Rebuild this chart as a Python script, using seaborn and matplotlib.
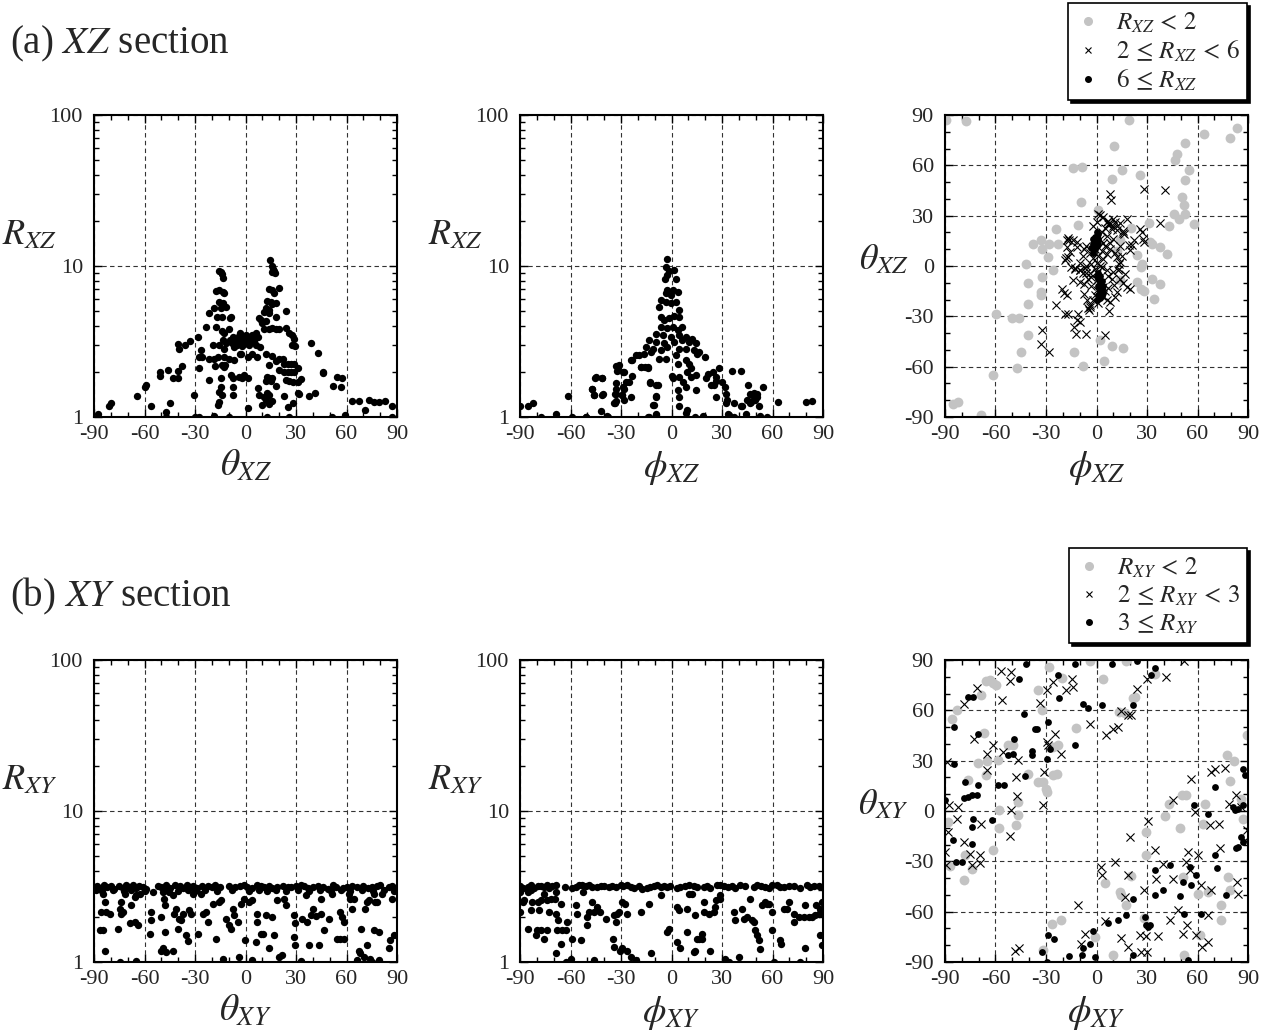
import matplotlib
matplotlib.use("Agg")
import matplotlib.pyplot as plt
import seaborn as sns
from matplotlib.ticker import MultipleLocator, LogLocator, NullFormatter
from matplotlib.lines import Line2D

# ---- data: (angle, R) or (phi, theta) pairs ----

# (a) XZ : theta_XZ vs R_XZ
xz_theta_r = [
    (-87.6, 1.05), (-81.3, 1.18), (-80.1, 1.23), (-64.3, 1.37), (-59.8, 1.57), (-59.0, 1.62), (-56.0, 1.18),
    (-47.5, 1.00), (-47.0, 1.08), (-44.6, 1.24), (-50.5, 1.99), (-50.5, 1.86), (-45.8, 2.06), (-43.2, 1.82),
    (-40.2, 1.82), (-40.2, 2.02), (-37.7, 2.18), (-40.2, 3.04), (-39.6, 2.80), (-35.9, 2.99), (-32.7, 3.18),
    (-28.4, 3.39), (-30.8, 1.39), (-30.2, 1.00), (-27.4, 1.00), (-27.8, 2.50), (-25.8, 2.50), (-26.4, 2.77),
    (-27.4, 2.12), (-21.9, 2.44), (-18.5, 2.44), (-16.6, 2.50), (-21.5, 1.77), (-19.5, 3.02), (-17.9, 2.18),
    (-18.5, 1.02),
    (-17.6, 6.85), (-15.6, 6.93), (-16.0, 9.3), (-14.4, 9.1), (-14.0, 8.9), (-13.6, 8.3), (-13.6, 6.77),
    (-12.6, 6.6), (-15.6, 5.8), (-13.6, 5.65), (-14.6, 5.25), (-11.6, 5.37), (-21.5, 4.85), (-18.5, 5.25),
    (-17.0, 4.6), (-14.0, 4.6), (-9.5, 4.5), (-8.5, 4.6), (-23.5, 3.95), (-17.6, 3.95), (-14.0, 3.7),
    (-12.6, 3.6), (-10.0, 3.8), (-13.6, 3.23), (-11.6, 3.07), (-15.6, 2.99), (-12.6, 2.8), (-9.5, 3.23),
    (-7.5, 3.39),
    (-8, 3.1), (-6, 3.3), (-5, 3.0), (-4, 3.45), (-3, 3.2), (-2, 2.95), (-1, 3.35), (0, 3.1), (1, 3.4),
    (2, 3.0), (3, 3.25), (-7, 2.9), (-3.5, 3.6), (0.5, 3.5), (-1.5, 3.05), (4, 3.5), (5, 3.2), (6, 3.0),
    (-12.6, 2.5), (-9.7, 2.44), (-6.7, 2.38), (-3.0, 2.6), (-12.0, 2.2), (-14.0, 2.2), (-13.0, 2.13),
    (-14.6, 1.8), (-8.7, 1.9), (-7.7, 1.8), (-3.8, 1.85), (-1.8, 1.8), (-14.6, 1.58), (-7.7, 1.58),
    (-7.7, 1.4), (-15.6, 1.47), (-14.0, 1.40), (-15.6, 1.25), (-16.6, 1.2), (-9.7, 1.0), (-0.8, 1.9),
    (1.2, 1.8), (1.2, 1.14), (-2.8, 2.63), (1.2, 2.5), (4.1, 2.63), (7.1, 2.5), (7.5, 1.55), (8.1, 1.4),
    (10, 1.2),
    (14.6, 11.0), (16.0, 10.0), (16.6, 9.6), (17.0, 9.3), (16.0, 9.1), (17.6, 9.0), (14.0, 7.0),
    (16.0, 6.9), (17.0, 6.6), (20.1, 7.1), (13.0, 5.9), (15.0, 5.8), (16.0, 5.6), (18.0, 5.7),
    (12.0, 5.3), (14.0, 5.1), (11.0, 4.95), (14.0, 4.9), (9.0, 4.4), (10.0, 4.2), (12.0, 4.3),
    (8.0, 4.5), (18.0, 4.6), (24.0, 5.0), (11.0, 3.85), (14.0, 3.85), (16.0, 3.9), (18.0, 3.85),
    (20.0, 3.8), (24.0, 3.9), (26.0, 3.6), (27.4, 3.5), (28.8, 3.3), (27.8, 3.0), (29.4, 2.95),
    (6.5, 3.6), (7.5, 3.4), (4.5, 3.2), (8.5, 2.9),
    (12.0, 2.6), (16.0, 2.55), (20.0, 2.44), (22.0, 2.44), (23.0, 2.25), (25.0, 2.25), (27.0, 2.25),
    (29.0, 2.25), (14.0, 2.2), (18.0, 2.35), (20.0, 2.06), (23.0, 1.98), (25.0, 1.98), (27.0, 1.98),
    (29.0, 1.98), (31.0, 2.1), (13.0, 1.85), (14.0, 1.8), (15.0, 1.73), (16.0, 1.8), (12.0, 1.72),
    (24.0, 1.76), (26.0, 1.72), (28.0, 1.7), (31.0, 1.7), (18.0, 1.6), (13.0, 1.45), (14.0, 1.4),
    (12.0, 1.3), (16.0, 1.28), (11.0, 1.35), (14.0, 1.22), (23.0, 1.38), (25.0, 1.17), (28.0, 1.23),
    (31.0, 1.45), (32.0, 1.43), (33.0, 1.78), (13.0, 1.0), (26.0, 1.0),
    (39.0, 3.11), (43.2, 2.66), (46.0, 2.0), (46.0, 1.97), (38.0, 1.37), (41.0, 1.44), (51.5, 1.0),
    (52.0, 1.6), (54.5, 1.84), (57.4, 1.82), (57.0, 1.57), (59.0, 1.03), (63.3, 1.28), (67.2, 1.27),
    (73.2, 1.3), (76.1, 1.25), (79.1, 1.25), (83.0, 1.27), (71.0, 1.12), (87.0, 1.18), (87.0, 1.0),
]

# (a) XZ : phi_XZ vs R_XZ
xz_phi_r = [
    (-90, 1.18), (-85, 1.18), (-82, 1.23), (-77.7, 1.0), (-68.6, 1.04), (-61.3, 1.37), (-59, 1.0),
    (-50.5, 1.0), (-47, 1.54), (-45, 1.83), (-46, 1.39), (-41, 1.80), (-41, 1.40), (-41.6, 1.1),
    (-37.7, 1.0), (-33.7, 1.23), (-33.1, 1.28), (-32.7, 1.43), (-32, 2.15), (-31.3, 2.2), (-32.7, 1.68),
    (-32.7, 1.54), (-28.4, 1.99), (-26.8, 1.71), (-28.8, 1.57), (-29.2, 1.39), (-25.2, 1.70),
    (-23.3, 2.38), (-18, 2.15), (-16, 2.15), (-19.3, 2.57), (-14, 2.15), (-13, 1.70), (-13.4, 1.0),
    (-9, 1.0), (-9, 1.05), (-9, 1.38), (-8, 1.62), (-11, 1.2),
    (-2.4, 11.1), (-3.0, 9.9), (-1.4, 9.2), (1.6, 9.4), (-3.7, 8.2), (2.6, 8.2), (-2.4, 8.7),
    (-2.4, 6.9), (0.6, 6.9), (3.6, 6.75), (-3.4, 6.6), (-0.4, 6.4), (-6.3, 5.95), (-3.0, 5.8),
    (-0.4, 5.65), (2.6, 5.8), (-7.3, 5.37), (4.5, 5.1), (-6.3, 4.6), (-4.3, 4.4), (-1.4, 4.5),
    (1.6, 4.7), (4.5, 4.6), (-6.3, 3.95), (-2.4, 3.86), (0.6, 3.95), (3.6, 3.76), (6.5, 3.95),
    (-9.3, 3.57), (-5.3, 3.49), (-0.4, 3.4), (4.5, 3.49), (8.5, 3.4), (12.4, 3.31), (-13.2, 3.23),
    (-9.3, 3.15), (-4.3, 3.07), (1.6, 3.15), (6.5, 3.23), (10.5, 3.15), (14.4, 3.07), (-15.2, 2.91),
    (-11.2, 2.84), (-6.3, 2.77), (-2.4, 2.91), (4.5, 2.84), (8.5, 2.84), (13.4, 2.77), (16.4, 2.70),
    (-16.2, 2.63), (-12.2, 2.70), (-7.3, 2.44), (-3.4, 2.44), (2.6, 2.57), (8.5, 2.38), (15.4, 2.63),
    (19.9, 2.48), (-21.1, 2.57), (-24.1, 2.38), (-18.1, 2.13), (-14.2, 2.10), (3.6, 2.26), (10.5, 2.26),
    (11.4, 2.10), (9.5, 1.99), (-32.9, 2.17), (-32.5, 2.02), (-29.0, 1.99), (-23.5, 1.86), (-12.8, 1.68),
    (-9.3, 1.62), (0.2, 1.86), (0.6, 1.80), (4.5, 1.84), (6.9, 1.71), (8.5, 1.58), (11.4, 1.84),
    (14.4, 1.89), (20.3, 1.82), (21.9, 1.92), (24.7, 1.99), (26.2, 1.84), (28.2, 2.10), (23.3, 1.64),
    (25.2, 1.62), (30.2, 1.71), (31.6, 1.58), (32.1, 1.43), (36.1, 2.02), (41.0, 2.02), (45.6, 1.62),
    (46.4, 1.43), (47.9, 1.39), (49.5, 1.29), (50.9, 1.41), (-45.2, 1.82), (-41.2, 1.80), (-47.1, 1.54),
    (-45.8, 1.39), (-40.8, 1.41), (-33.3, 1.43), (-33.9, 1.24), (-28.0, 1.54), (-29.4, 1.39),
    (-28.4, 1.30), (-24.1, 1.36), (-9.3, 1.36), (-10.3, 1.20), (3.6, 1.52), (4.5, 1.36), (14.4, 1.50),
    (4.5, 1.18), (9.5, 1.11), (8.9, 1.06), (26.2, 1.36), (32.1, 1.23), (33.1, 1.30), (37.1, 1.24),
    (41.6, 1.18), (44.0, 1.05), (46.9, 1.23), (-50.7, 1.0), (-38.5, 1.01), (-14.2, 1.0), (-9.3, 1.03),
    (14.0, 1.0), (18.7, 1.01), (34.1, 1.03),
    (37.3, 1.0), (33.7, 1.04), (41.2, 1.19), (47.1, 1.26), (52, 1.19), (52.7, 1.01), (54.6, 1.57),
    (57, 1.0), (63.5, 1.26), (79.7, 1.26), (83.2, 1.28), (26.4, 1.73), (49, 1.45), (51, 1.35), (45, 1.3),
]

# (a) XZ : phi_XZ vs theta_XZ, split by R_XZ
xz_low = [  # R_XZ < 2
    (-89.5, 87.3), (-77.6, 86.5), (19.6, 86.9), (63.7, 78.9), (79.6, 76.5), (83.5, 82.5), (10.1, 71.4),
    (52.8, 73.4), (47.8, 67), (46.8, 63.4), (54.8, 57.5), (-13.7, 58.4), (-8.7, 59), (15.1, 57), (26, 54),
    (9.1, 52.1), (52.8, 51.5), (-9.3, 38.2), (50.8, 41.2), (45.8, 31.2), (48.8, 28.2), (51.8, 36.2),
    (52.8, 31.2), (57.7, 25.2), (0.6, 33.2), (-10.7, 24.3), (-24, 22.3), (-37.5, 12.9), (-32.9, 15.7),
    (-32.5, 10.3), (-28, 12.9), (-23, 12.9), (-29, 5.4), (-25.6, -2.2), (-41.9, 1.0), (-40.9, -9.9),
    (-32.5, -6.6), (-32.9, -15.5), (-32.9, -17.5), (-40.9, -22.5), (-59.7, -28.4), (-50.4, -30.8),
    (-45.8, -30.8), (-40.9, -41), (-44.8, -51.3), (-47.4, -60.8), (-61.3, -65.2), (-85.1, -82.1),
    (-82.1, -81.1), (-68.8, -89.1), (-13.1, -51.3), (-8.1, -59.6), (1.8, -43.9), (4.6, -56.9),
    (9.5, -47.9), (15.7, -48.7), (32, 14.3), (32.9, 12.9), (37.9, 11.3), (41.9, 7.4), (24, 6.4),
    (26.6, -0.6), (27, 1.4), (24, -9.5), (26.6, -13.5), (28, -14.9), (32.9, -7.6), (37.9, -10.5),
    (33.9, -19.5), (42.9, 23.7), (31, 25.6), (20.4, 22.9), (14.1, 15.3), (12.1, 8.9), (13.7, -8.5),
]
xz_mid = [  # 2 <= R_XZ < 6
    (8.1, 43.1), (8.5, 39.2), (28, 46.1), (40.9, 45.5), (2.2, 30.2), (7, 27), (10, 28), (12, 24), (11, 26),
    (9, 22), (7, 25), (18, 28.2), (25.6, 22.3), (27, 20.3), (27.6, 16.3), (28, 14.3), (37.5, 25.6),
    (16.1, 19.3), (22, 15.3), (19.6, 12.3), (12.1, 5.4), (13.1, 1.4), (13.1, -1.6), (14.1, -7.6),
    (12.1, -15.5), (10.1, -11.5), (11.1, -18.5), (18, -12.5), (8.1, -21.5), (7.7, -26.8), (5.2, -41.4),
    (-16.1, 15.3), (-17.7, 11.3), (-17.3, 15.3), (-11.7, 11.3), (-7.7, 10.3), (-16.7, 5.4), (-18.7, 3.4),
    (-12.7, -1.6), (-9.7, -2.6), (-20.6, -13.5), (-19.6, -16.1), (-17.7, -17.5), (-13.7, -8.5),
    (-9.7, -9.5), (-7.7, -10.5), (-24, -23.1), (-18.7, -28.4), (-16.7, -28.4), (-10.7, -28.4),
    (-11.7, -32.4), (-9.7, -33.4), (-13.3, -36.4), (-12.1, -40.4), (-6.2, -40.4), (-32.5, -38.4),
    (-33.1, -46.3), (-28.2, -51.3), (-3.8, -24.5), (-4.2, -26.4), (-7.3, -16.5), (-5.8, -20.5),
    (1, 31), (4, 29), (6, 26.5), (8, 25), (10, 23.6), (12, 21.6), (5, 22.6), (14, 25.6), (16, 21),
    (15.9, 19.5), (20.9, 12.5), (19.9, 9.5), (-16.9, 16.5), (-13.9, 15.5), (-11.5, 14.5), (-15.9, 8.5),
    (-17.9, 4.6), (-14.9, -0.4), (-12.9, -1.4), (-9.9, -2.4), (-6.9, -1.4), (-3.9, -4.4), (0, -4.4),
    (3, -0.4), (6, -2.4), (9.9, -3.4), (12.9, -2.4), (13.9, 2.6), (-6, -4.4), (-3, -6.4), (0, -8.4),
    (2, -10.4), (4, -12.4), (0, -14.4), (-1, -17.4), (-2, -20.4), (-4, -23.4), (-5, -25),
    (-6, 12), (-4, 8), (-2, 5), (0, 2), (2, 0), (4, 4), (6, 7), (8, 10), (-8, 6), (-10, 2), (-6, 0),
    (-8, -4), (2, 16), (4, 14), (6, 18), (8, 14), (-2, 24), (0, 26), (3, 20), (5, 12), (-1, 10), (7, -6),
    (9, -8), (5, -15), (7, -13), (3, -18), (1, -22), (6, -20), (-3, -12), (-5, -8), (-1, -2), (1, 6),
    (3, 9), (-3, 1), (10, 16), (11, 8), (14, 12), (15, 6), (17, -5), (16, -10), (20, -14),
]
xz_high = [  # 6 <= R_XZ
    (-2, 8), (-1, 10), (0, 12), (-2, 13), (-1, 14), (0, 15), (1, 16), (-1, 17), (0, 18), (1, 19), (0, 20),
    (-2, 16), (-3, 11), (1, 13), (-1, 12),
    (1, -4), (2, -6), (1, -8), (3, -9), (2, -11), (4, -12), (3, -14), (2, -15), (4, -16), (1, -17),
    (3, -18), (2, -19), (0, -20), (0, -6), (1, -12),
]

# (b) XY : theta_XY vs R_XY
xy_theta_r = [
    (-90, 3.15), (-88, 3.2), (-86, 3.1), (-84, 3.22), (-82, 3.12), (-80, 3.18), (-78, 3.05), (-75, 3.2),
    (-73, 3.1), (-71, 3.22), (-69, 3.15), (-67, 3.25), (-65, 3.08), (-63, 3.2), (-61, 3.12), (-59, 3.05),
    (-52, 3.2), (-50, 3.12), (-47, 3.22), (-45, 3.1), (-42, 3.25), (-39, 3.18), (-37, 3.1), (-35, 3.22),
    (-33, 3.15), (-31, 3.2), (-29, 3.08), (-26, 3.18), (-22, 3.2), (-20, 3.12), (-18, 3.22), (-15, 3.15),
    (-10, 3.2), (-6, 3.12), (-3, 3.18), (-1, 3.22), (1, 3.15), (4, 3.1), (7, 3.22), (9, 3.2), (11, 3.12),
    (14, 3.18), (16, 3.1), (19, 3.15), (22, 3.2), (25, 3.12), (27, 3.15), (30, 3.18), (33, 3.22),
    (35, 3.2), (37, 3.1), (40, 3.15), (43, 3.2), (46, 3.12), (49, 3.05), (52, 3.25), (54, 3.12),
    (58, 3.1), (60, 3.15), (63, 3.18), (66, 3.12), (70, 3.2), (73, 3.08), (75, 3.15), (78, 3.2),
    (80, 3.22), (85, 3.15), (87, 3.2), (89, 3.1),
    (-89, 3.0), (-85, 2.95), (-79, 3.0), (-72, 2.97), (-68, 3.02), (-60, 2.95), (-48, 3.0), (-40, 2.95),
    (-34, 3.02), (-30, 2.97), (-24, 3.0), (-17, 2.95), (-8, 3.02), (2, 2.97), (8, 3.0), (13, 2.95),
    (18, 3.02), (24, 2.97), (31, 3.0), (38, 2.95), (44, 3.02), (51, 2.97), (57, 3.0), (62, 2.95),
    (69, 3.02), (76, 2.97), (82, 3.0), (88, 2.95),
    (-84.6, 2.84), (-83.6, 2.50), (-85.6, 2.15), (-82.6, 2.15), (-80.7, 2.09), (-86.6, 1.62),
    (-84.6, 1.62), (-83.6, 1.19), (-75.7, 1.66), (-73.8, 2.50), (-74.7, 2.26), (-73.8, 2.09),
    (-72.8, 2.15), (-74.7, 1.0), (-71.8, 2.84), (-68.8, 1.80), (-67.9, 2.38), (-65.9, 2.70),
    (-65.9, 1.84), (-64.9, 2.77), (-63.9, 1.75), (-65.3, 1.01), (-62.9, 2.84), (-56, 2.15), (-56, 1.89),
    (-57, 1.54), (-55, 2.89), (-49.1, 2.89), (-48.1, 2.38), (-48.7, 2.63), (-50.1, 1.99), (-48.1, 1.58),
    (-49.1, 1.23), (-50.1, 1.19), (-47.5, 1.16), (-45.2, 2.92), (-43.2, 2.77), (-43.2, 1.19),
    (-42.2, 2.09), (-41.2, 2.26), (-40.2, 1.66), (-39.3, 1.94), (-38.3, 1.89), (-37.3, 2.09),
    (-35.3, 1.50), (-34.3, 1.37), (-33.3, 2.20), (-32.3, 2.09), (-31.4, 2.84), (-29.4, 2.99),
    (-28.4, 1.54), (-26.4, 2.84), (-25.4, 2.09), (-23.5, 2.15), (-22.5, 1.84), (-19.5, 2.44),
    (-17.6, 1.43), (-15.6, 2.50), (-14.6, 2.57), (-13.6, 1.05), (-11.6, 1.94), (-9.7, 1.75),
    (-8.7, 1.66), (-7.7, 2.26), (-6.7, 2.04), (-4.7, 1.84), (-3.7, 1.08), (-2.8, 2.44), (-0.8, 2.63),
    (-0.2, 1.39), (2.2, 2.50), (4.1, 2.57), (4.1, 1.03), (6.1, 1.36), (7.1, 2.09), (7.1, 1.84),
    (9.1, 1.54), (10.1, 1.54), (12, 2.04), (14, 1.23), (16, 1.99), (17, 1.50), (19.9, 1.08),
    (18.9, 2.57), (21.9, 1.11), (22.9, 2.63), (23.9, 2.38), (28.8, 2.04), (29.4, 1.80), (28.8, 1.47),
    (29.4, 1.29), (32.7, 1.02), (33.7, 1.94), (35.7, 2.77), (36.7, 1.84), (37.7, 1.29), (38.7, 2.06),
    (40, 2.26), (41.6, 2.02), (44.6, 2.09), (43.6, 1.29), (44.6, 2.63), (46.5, 1.62), (49.5, 1.94),
    (51.5, 2.84), (54.4, 1.43), (56.4, 2.15), (56.4, 1.43), (57.4, 1.99), (58.4, 1.84), (58.4, 1.43),
    (61.3, 2.84), (62.3, 2.63), (63.3, 2.26), (64.3, 2.63), (66.3, 1.03), (67.3, 1.19), (68.2, 1.14),
    (68.6, 1.66), (70.2, 1.08), (71.2, 2.26), (72.2, 2.50), (72.2, 1.29), (73.2, 2.57), (74.2, 1.05),
    (75.1, 1.0), (76.1, 2.84), (77.1, 2.50), (76.1, 1.62), (78.1, 2.50), (79.1, 1.58), (79.1, 1.03),
    (81.1, 2.84), (85, 1.23), (86, 1.39), (87, 2.63), (88, 1.50),
]

# (b) XY : phi_XY vs R_XY
xy_phi_r = [
    (-89.9, 3.2), (-88.5, 3.1), (-85.2, 3.15), (-83.6, 3.22), (-81.6, 3.1), (-79.6, 3.18), (-77.7, 3.2),
    (-75.7, 3.12), (-74.1, 3.22), (-72.7, 3.15), (-70.8, 3.2), (-68.8, 3.25), (-63.4, 3.12), (-58.9, 3.08),
    (-56.9, 3.15), (-54.9, 3.22), (-53, 3.25), (-51, 3.2), (-49, 3.22), (-47, 3.15), (-44.1, 3.12),
    (-42.1, 3.18), (-40.1, 3.2), (-37.2, 3.15), (-35.2, 3.2), (-33.2, 3.12), (-30.2, 3.25), (-28.7, 3.2),
    (-26.3, 3.22), (-24.3, 3.15), (-22.3, 3.1), (-19.4, 3.18), (-17.4, 3.05), (-14.4, 3.1), (-12.5, 3.15),
    (-10.5, 3.2), (-8.5, 3.22), (-6.5, 3.12), (-4.5, 3.2), (-2.6, 3.15), (-0.6, 3.18), (3.4, 3.1),
    (5.3, 3.15), (8.3, 3.2), (10.3, 3.22), (13.2, 3.18), (15.2, 3.12), (19.2, 3.15), (21.1, 3.2),
    (23.1, 3.1), (27.1, 3.22), (29.1, 3.25), (31, 3.18), (33.4, 3.15), (36, 3.2), (37.9, 3.1),
    (40.9, 3.22), (43.9, 3.18), (48.8, 3.12), (50.8, 3.25), (53.2, 3.2), (55.7, 3.15), (57.7, 3.1),
    (59.7, 3.22), (62.6, 3.25), (64.6, 3.12), (66.6, 3.15), (69.6, 3.2), (72.5, 3.18), (76.5, 3.1),
    (80.4, 3.22), (82.4, 3.15), (84.4, 3.2), (87.4, 3.18), (89.3, 3.12),
    (-89.9, 2.92), (-88.5, 2.50), (-87.5, 2.57), (-85.2, 2.92), (-83.6, 2.99), (-82.6, 2.50),
    (-79.6, 2.50), (-78.7, 2.20), (-77.7, 2.57), (-75.7, 2.84), (-74.1, 2.57), (-72.7, 3.07),
    (-71.7, 2.63), (-69.4, 2.63), (-68.8, 2.92), (-65.8, 2.44), (-89.9, 2.15), (-83.6, 2.20),
    (-77.7, 1.62), (-85.2, 1.66), (-80, 1.62), (-80.6, 1.50), (-75.7, 1.43), (-73.7, 1.62),
    (-72.7, 2.15), (-68.8, 2.09), (-67.4, 1.89), (-67.8, 1.62), (-64.8, 1.62), (-62.8, 1.62),
    (-62.3, 1.84), (-65.8, 1.32), (-68.8, 1.14), (-62.8, 1.0), (-59.5, 1.05), (-56.9, 2.38),
    (-58.9, 1.43), (-55.9, 2.09), (-53.6, 1.39), (-52.4, 2.92), (-50.4, 1.75), (-50, 1.99), (-49, 2.15),
    (-47, 2.50), (-46, 2.15), (-46, 1.03), (-44.1, 2.32), (-42.5, 2.15), (-39.1, 1.94), (-34.2, 2.04),
    (-33.2, 1.84), (-32.2, 2.09), (-31.2, 2.15), (-34.6, 1.43), (-34.2, 1.26), (-30.6, 1.19),
    (-29.2, 1.23), (-29.2, 2.50), (-26.7, 2.09), (-27.9, 2.44), (-26.3, 1.19), (-24.3, 1.08),
    (-21.3, 1.03), (-18.4, 2.15), (-13.4, 2.44), (-12.1, 1.14), (-6.5, 2.77), (-2.6, 1.58),
    (-1.6, 1.66), (3.4, 2.32), (3.4, 1.36), (4.3, 2.20), (5.3, 1.23), (9.3, 1.58), (9.3, 2.26),
    (10.3, 2.84), (12.3, 2.84), (14.2, 2.04), (15.2, 1.43), (16.2, 1.43), (13.2, 1.16), (14.2, 1.19),
    (18.2, 1.43), (18.2, 1.54), (19.2, 2.15), (19.2, 2.50), (22.1, 2.09), (22.7, 1.19), (25.1, 2.15),
    (26.1, 2.32), (26.7, 2.57), (28.7, 2.77), (29.1, 2.63), (32, 1.05), (34, 1.0), (37.4, 2.15),
    (37.9, 1.89), (39.9, 1.08), (41.9, 2.26), (42.9, 1.94), (44.9, 1.99), (46.8, 2.63), (47.8, 1.89),
    (48.8, 1.84), (49.8, 1.62), (50.8, 1.50), (51.8, 1.39), (52.8, 1.21), (53.8, 2.38), (55.7, 2.50),
    (56.7, 2.44), (57.7, 2.44), (59.7, 2.15), (59.7, 1.62), (60.7, 1.0), (64.2, 1.39), (65, 1.32),
    (66.6, 2.26), (68.6, 2.26), (69.6, 2.50), (72.5, 1.84), (72.5, 2.09), (75.5, 1.99), (76.5, 1.0),
    (78.5, 1.99), (79.4, 2.38), (79.4, 1.23), (81.4, 1.99), (83.4, 1.99), (85.4, 2.04), (86, 2.38),
    (87.4, 2.09), (88.3, 2.26), (89.3, 2.50), (88.3, 1.50), (89.3, 1.29),
]

# (b) XY : phi_XY vs theta_XY, split by R_XY
xy_low = [  # R_XY < 2
    (-86, 54.7), (-83, 60.4), (-68.6, 69), (-65.8, 77.3), (-63.2, 78), (-61.7, 76), (-59.9, 75.3),
    (-66.6, 46.7), (-70.2, 28.8), (-65.2, 29.6), (-65.8, 21.3), (-76.1, 18.3), (-88.3, -6.6),
    (-87, -33), (-79, -41), (-78, -26.4), (-74.1, -34.4), (-61.3, -23.5), (-57.9, -10.1), (-57.7, 0.4),
    (-58.3, 30.2), (-52.4, 39.2), (-49.4, 39.2), (-47.8, -8.5), (-46.4, -2.6), (-46.4, 5.4),
    (-40.5, 22.3), (-35, 17.3), (-31.6, 17.3), (-30, 12.9), (-29.6, 11.3), (-34.6, 72.4), (-32.6, 60),
    (-28.3, 85.9), (-25.7, 38.2), (-22.7, 39.2), (-25.7, 21.3), (-23.7, 22.3), (-20.2, 79.3),
    (-26.7, -67.2), (-20.8, -65.2), (-31.6, -83.1), (-11.9, 49.5), (-4, 89.3), (4, 78.5), (5.3, -42.7),
    (-1, -75.1), (9.9, -86.1), (13.8, -48.3), (14.8, -49.9), (17.8, -56.3), (13.2, 59), (16.8, 58.6),
    (17.8, 89.3), (21.7, 67.4), (22.7, 68), (34.6, 81.9), (20.4, -38.8), (29.6, -26.4), (28.3, -63.8),
    (29.6, -12.5), (40.5, -3), (42.9, 4.4), (49.4, -10.1), (50.8, 9.3), (53.4, 9.7), (51.4, -39.4),
    (52, -86.1), (63.2, -7.6), (64.2, 4.4), (60.3, -49.3), (66.2, -48.3), (61.3, -74.2), (73.7, -56.3),
    (74.1, -65.2), (77.7, 33.2), (81.6, 29.6), (79.6, 17.7), (78.1, -39.4), (79.6, -47.3), (87, -4.6),
    (89.5, 45.1), (86, 7.4),
]
xy_mid = [  # 2 <= R_XY < 3
    (-88.9, 29.2), (-87.5, 3.4), (-88.3, -12.5), (-90, -24.5), (-89.5, -32.4), (-82, 2.4), (-83, -4.6),
    (-79, 64), (-78.5, -18.5), (-75.1, -25.4), (-72.5, 42.7), (-71.1, 73.4), (-74.1, -32), (-69.2, -30.8),
    (-69.2, -26.4), (-68.6, -7.6), (-65.2, 34.2), (-64.8, 24.3), (-61.3, 39.6), (-56.7, 83.3),
    (-56.3, 66), (-50.8, 83.1), (-51.4, 77.3), (-55.3, 35.2), (-50.8, 0.4), (-51.4, -14.9), (-47.4, 8.9),
    (-48, 20.3), (-46.4, 30.2), (-48.4, -83.7), (-46, -81.7), (-33.6, 64.6), (-31.6, 3.4), (-31, 23.3),
    (-29.6, 41.2), (-29.6, 72.4), (-29, 39.2), (-25.7, 76.9), (-24.7, 46.1), (-21.1, 34.2), (-18.4, 72),
    (-14.8, 78.9), (-13.8, 74), (-10.9, -55.9), (-9.3, -79.1), (-6.9, -73.2), (-4, 52.1), (2.6, -33.4),
    (3.4, -38.4), (5.3, -65.8), (5.9, 45.1), (9.9, 49.1), (12.8, 50.1), (14.4, 59.4), (18.8, 57),
    (20.4, 57), (10.9, -30.4), (14.4, -75.7), (16.8, -51.3), (18.8, -38.4), (18.8, -81.1), (19.8, -15.5),
    (24.3, 72.6), (26.7, -84.1), (25.7, -74.2), (28.5, -46.9), (29.6, -74.6), (30.6, -6.2), (30.2, -84.1),
    (30.2, 78.5), (34.6, -23.5), (35.6, -40.4), (36.6, -74.6), (39.5, -31.4), (41.5, 79.9), (43.5, -65.2),
    (45.5, -40.4), (45.5, 6.4), (48.4, -59.2), (51.4, -73.2), (53.4, -30.4), (54.3, -24.5), (55.3, -35.4),
    (54, -67.8), (52, 89.3), (56.3, 19.3), (58.3, -0.6), (59.3, -74.2), (60.3, -26.4), (62.3, -44.3),
    (62.6, -81.1), (66.2, -78.1), (66.2, -62.2), (67.2, -8.5), (67.8, -47.3), (68.2, 23.3), (70.2, 25.3),
    (72.5, -7.6), (73.1, -22.1), (76.1, 25.6), (79, 4.4), (83, 9.3), (83.6, -42.3), (84, -49.3),
    (86, 2.4), (88, -17.5), (89.5, -11.5),
]
xy_high = [  # 3 <= R_XY
    (-84.4, 50.1), (-84.4, 28.2), (-90, 6.4), (-85, -17.5), (-83.6, -30.4), (-80, -30.4), (-78.1, 17.3),
    (-78.5, 7.8), (-76.1, 8.3), (-74.1, 9.3), (-71.1, 9.7), (-70.2, 15.3), (-73.5, -4.6), (-74.1, -9.5),
    (-74.1, -19.5), (-76.1, 68), (-73.1, 68), (-70.6, 46.1), (-62.3, -5.6), (-58.3, 15.7), (-54.7, 15.3),
    (-52.4, 33.2), (-49.4, 34.2), (-48.8, 42.7), (-46, 78.5), (-42.1, 87.9), (-42.9, 58), (-42.5, 20.7),
    (-38.5, 35.6), (-38.5, 33.6), (-36.6, 49.1), (-35.6, 48.7), (-32.6, -84.1), (-29.6, 31.2),
    (-29, 53.1), (-28.7, -74.2), (-25.1, -76.1), (-29.6, -90), (-27.7, 36.8), (-22.7, 80.9),
    (-22.3, 67.4), (-16.4, -86.5), (-12.8, 39.2), (-12.5, 87.9), (-8.5, -85.7), (-7.9, -81.7),
    (-7.9, 64), (-4.9, 61.4), (-4, -79.1), (-2, -71.8), (-1, -87.1), (3.4, 63), (6.9, -66.6),
    (9.3, 87.9), (12.8, -65.2), (17.8, -62.2), (21.7, -52.3), (21.7, -85.7), (21.7, 63), (24.3, 89.3),
    (29.1, -63.2), (29.6, -68.2), (30.6, -69.2), (31.6, -68.2), (32.2, 80.9), (34.6, 85.3),
    (34.6, -35.4), (34.6, -50.3), (39.5, -47.3), (43.5, -32), (49.4, -50.7), (51.4, -42.3), (52, -61.2),
    (54.3, -89.1), (56.3, -44.3), (55.3, -33.4), (57.9, 3.4), (59.3, -38), (62.3, -61.2), (66.2, -1.6),
    (70.2, 14.3), (70.2, -26.4), (71.7, -34), (77.1, -49.9), (81, 2.4), (82, 0.4), (84, 1),
    (84, -21.5), (83, -22.1), (87, 25.2), (88, 21.3), (87, -18.5), (86, -15.5), (87, 3.4),
]

angle_ticks = [-90, -60, -30, 0, 30, 60, 90]
r_ticks = [1, 10, 100]

sns.set_style("ticks")
plt.rcParams["font.family"] = ["Liberation Serif", "DejaVu Serif"]
plt.rcParams["mathtext.fontset"] = "stix"
plt.rcParams["axes.unicode_minus"] = False

W, H = 1262, 1034
fig = plt.figure(figsize=(W / 100, H / 100), dpi=100)


def add_ax(left, top):
    return fig.add_axes([left / W, 1 - (top + 302) / H, 303 / W, 302 / H])


def style(ax, log):
    ax.set_xlim(-90, 90)
    ax.set_xticks(angle_ticks)
    ax.set_xticklabels([str(t) for t in angle_ticks])
    ax.xaxis.set_minor_locator(MultipleLocator(10))
    if log:
        ax.set_yscale("log")
        ax.set_ylim(1, 100)
        ax.set_yticks(r_ticks)
        ax.set_yticklabels([str(t) for t in r_ticks])
        ax.yaxis.set_minor_locator(LogLocator(base=10, subs=range(2, 10)))
        ax.yaxis.set_minor_formatter(NullFormatter())
    else:
        ax.set_ylim(-90, 90)
        ax.set_yticks(angle_ticks)
        ax.set_yticklabels([str(t) for t in angle_ticks])
        ax.yaxis.set_minor_locator(MultipleLocator(10))
    ax.tick_params(which="both", direction="in", top=True, right=True, width=1, color="black")
    ax.tick_params(which="major", length=6, labelsize=16)
    ax.tick_params(axis="x", which="major", pad=6)
    ax.tick_params(axis="y", which="major", pad=8)
    ax.tick_params(which="minor", length=3.5)
    ax.grid(True, which="major", linestyle=(0, (4, 3)), color="#333333", linewidth=0.8)
    for sp in ax.spines.values():
        sp.set_linewidth(1.5)
        sp.set_color("black")
        sp.set_zorder(5)


def labels(ax, xl, yl, ypos):
    ax.set_xlabel(xl, fontsize=27)
    ax.xaxis.set_label_coords(0.5, -0.105)
    ax.set_ylabel(yl, fontsize=26, rotation=0, ha="right", va="center")
    ax.yaxis.set_label_coords(-0.12, ypos)


def dots(ax, pts, **kw):
    x = [p[0] for p in pts]
    y = [p[1] for p in pts]
    sns.scatterplot(x=x, y=y, ax=ax, legend=False, **kw)


gray = "#c3c3c3"
rows = [
    (115, "XZ", xz_theta_r, xz_phi_r, xz_low, xz_mid, xz_high, ["2", "6"], 53, "a"),
    (660, "XY", xy_theta_r, xy_phi_r, xy_low, xy_mid, xy_high, ["2", "3"], 606, "b"),
]

for top, sec, th_r, ph_r, low, mid, high, lims, ty, tag in rows:
    fig.text(10 / W, 1 - ty / H, rf"({tag}) ${sec}$ section", fontsize=28, va="baseline")

    ax1 = add_ax(94, top)
    dots(ax1, th_r, color="black", s=28, linewidth=0, zorder=3)
    style(ax1, True)
    labels(ax1, rf"$\theta_{{{sec}}}$", rf"$R_{{{sec}}}$", 0.60)

    ax2 = add_ax(520, top)
    dots(ax2, ph_r, color="black", s=28, linewidth=0, zorder=3)
    style(ax2, True)
    labels(ax2, rf"$\phi_{{{sec}}}$", rf"$R_{{{sec}}}$", 0.60)

    ax3 = add_ax(945, top)
    dots(ax3, low, color=gray, s=50, linewidth=0, zorder=3)
    dots(ax3, mid, color="black", marker="x", s=34, linewidth=0.8, zorder=3)
    dots(ax3, high, color="black", s=24, linewidth=0, zorder=4)
    style(ax3, False)
    labels(ax3, rf"$\phi_{{{sec}}}$", rf"$\theta_{{{sec}}}$", 0.52)

    handles = [
        Line2D([], [], ls="", marker="o", color=gray, markersize=5.5),
        Line2D([], [], ls="", marker="x", color="black", markersize=5, markeredgewidth=0.8),
        Line2D([], [], ls="", marker="o", color="black", markersize=4),
    ]
    texts = [
        rf"$R_{{{sec}}}\, <\, {lims[0]}$",
        rf"${lims[0]}\, \leq\, R_{{{sec}}}\, <\, {lims[1]}$",
        rf"${lims[1]}\, \leq\, R_{{{sec}}}$",
    ]
    leg = ax3.legend(handles, texts, loc="upper right",
                     bbox_to_anchor=(1247 / W, 1 - (top - 112) / H), bbox_transform=fig.transFigure,
                     frameon=True, fancybox=False, shadow={"color": "black", "alpha": 1},
                     edgecolor="black", fontsize=18, handlelength=1.0, handletextpad=0.6,
                     borderpad=0.3, labelspacing=0.15, borderaxespad=0)
    leg.get_frame().set_linewidth(1.2)
    leg.get_frame().set_alpha(1)

fig.savefig("out.png", dpi=100)
